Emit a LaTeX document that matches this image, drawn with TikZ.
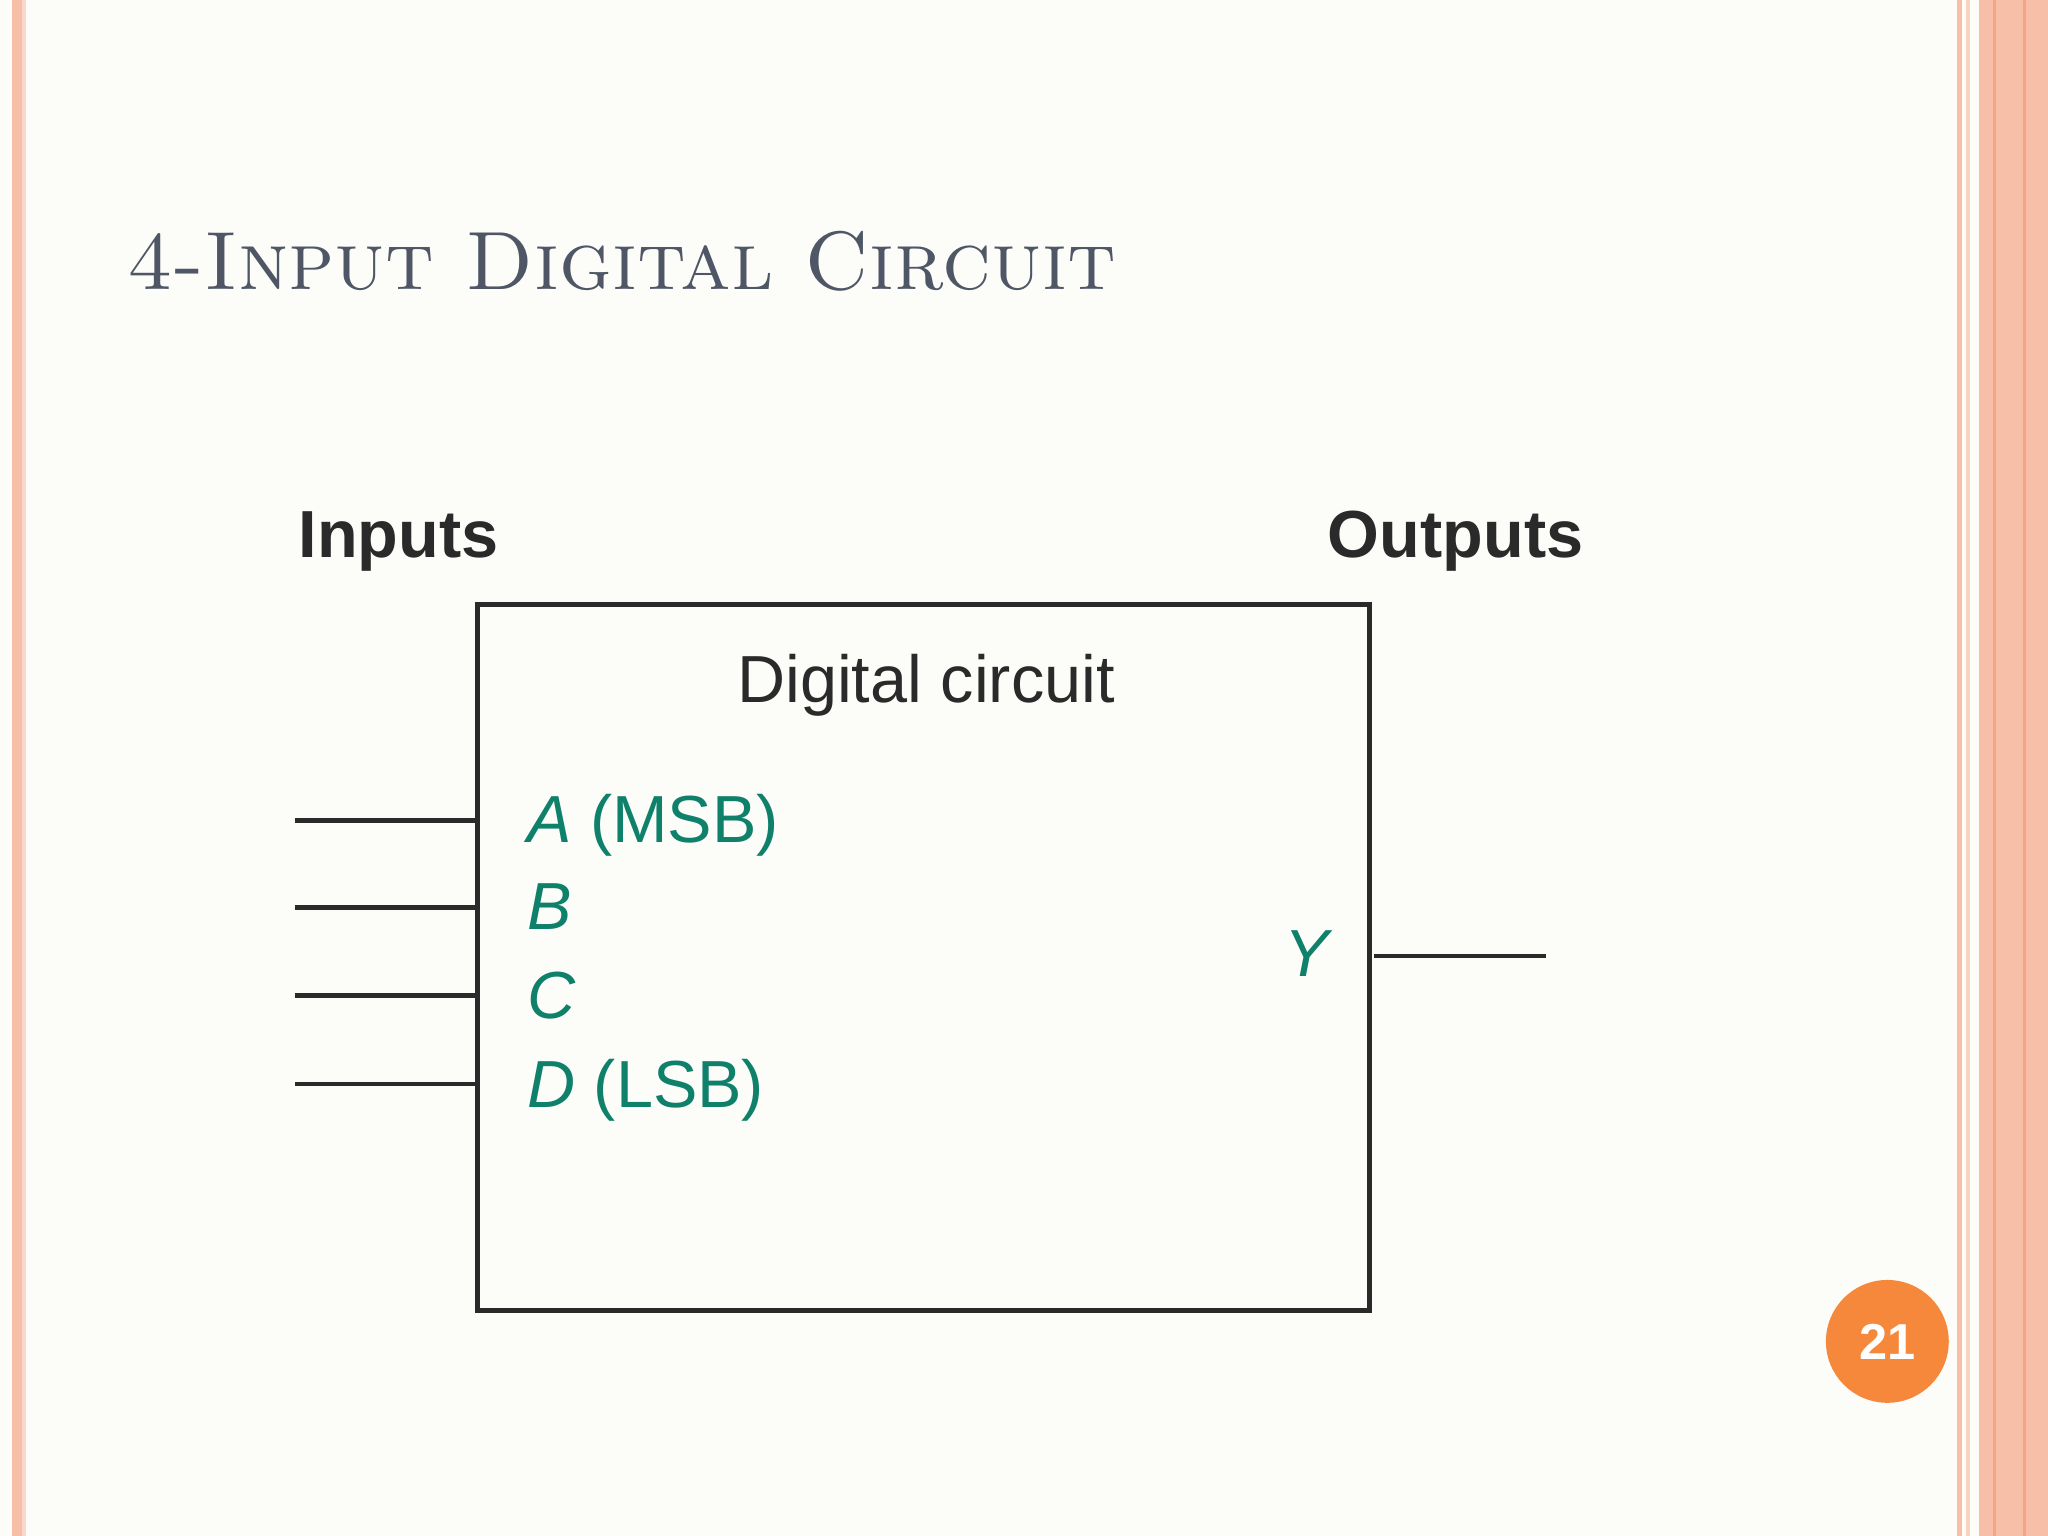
\documentclass[tikz,border=0pt]{standalone}
\usepackage{fontspec}
\newfontfamily\sans{Liberation Sans}
\definecolor{bg}{HTML}{FCFCF8}
\definecolor{stripe}{HTML}{F8BFA8}
\definecolor{ttl}{HTML}{4F5766}
\definecolor{grn}{HTML}{0F806A}
\definecolor{org}{HTML}{F5883A}
\definecolor{ink}{HTML}{2A2A2A}
\tikzset{wire/.style={draw=ink,line width=1pt},
lbl/.style={text=grn,font=\sans\fontsize{14.5}{14.5}\selectfont,anchor=base west,inner sep=0}}
\begin{document}
\begin{tikzpicture}[x=0.01cm,y=-0.01cm]
\fill[bg] (0,0) rectangle (1568,1176);
\useasboundingbox (0,0) rectangle (1568,1176);
% stripes
\fill[stripe] (9,0) rectangle (17,1176);
\fill[stripe!60] (17,0) rectangle (20,1176);
\fill[stripe] (1498,0) rectangle (1502,1176);
\fill[stripe!70] (1505,0) rectangle (1508,1176);
\fill[stripe] (1515,0) rectangle (1568,1176);
\draw[stripe!140,line width=0.6pt] (1527,0) -- (1527,1176);
\draw[stripe!140,line width=0.6pt] (1550,0) -- (1550,1176);
% title
\node[anchor=base west,inner sep=0,text=ttl,font=\fontsize{18}{18}\selectfont] (title) at (97,222) {\textsc{4-Input Digital Circuit}};
% box
\node[draw=ink,line width=1.1pt,minimum width=6.82cm,minimum height=5.40cm,inner sep=0,anchor=north west] (box) at (364,461) {};
\node[anchor=base west,inner sep=0,text=ink,font=\sans\bfseries\fontsize{14.5}{14.5}\selectfont] (in) at (228,427) {Inputs};
\node[anchor=base west,inner sep=0,text=ink,font=\sans\bfseries\fontsize{14.5}{14.5}\selectfont] (out) at (1016,427) {Outputs};
\node[anchor=base,inner sep=0,text=ink,font=\sans\fontsize{14.5}{14.5}\selectfont] (dc) at (709,538) {Digital circuit};
\node[lbl] (la) at (403,645) {\textit{A} (MSB)};
\node[lbl] (lb) at (403,712) {\textit{B}};
\node[lbl] (lc) at (403,780) {\textit{C}};
\node[lbl] (ld) at (403,848) {\textit{D} (LSB)};
\node[lbl] (ly) at (983,748) {\textit{Y}};
\foreach \n/\y in {a/628,b/695,c/762,d/830}{
  \coordinate (s\n) at (226,\y);
  \draw[wire] (s\n) -- (box.west |- s\n);
}
\coordinate (yo) at (1052,732);
\coordinate (ye) at (1184,732);
\draw[wire] (yo) -- (ye);
\node[circle,fill=org,minimum size=0.94cm,inner sep=0,text=white,font=\sans\bfseries\fontsize{11}{11}\selectfont] (pg) at (1445,1027) {21};
\end{tikzpicture}
\end{document}
